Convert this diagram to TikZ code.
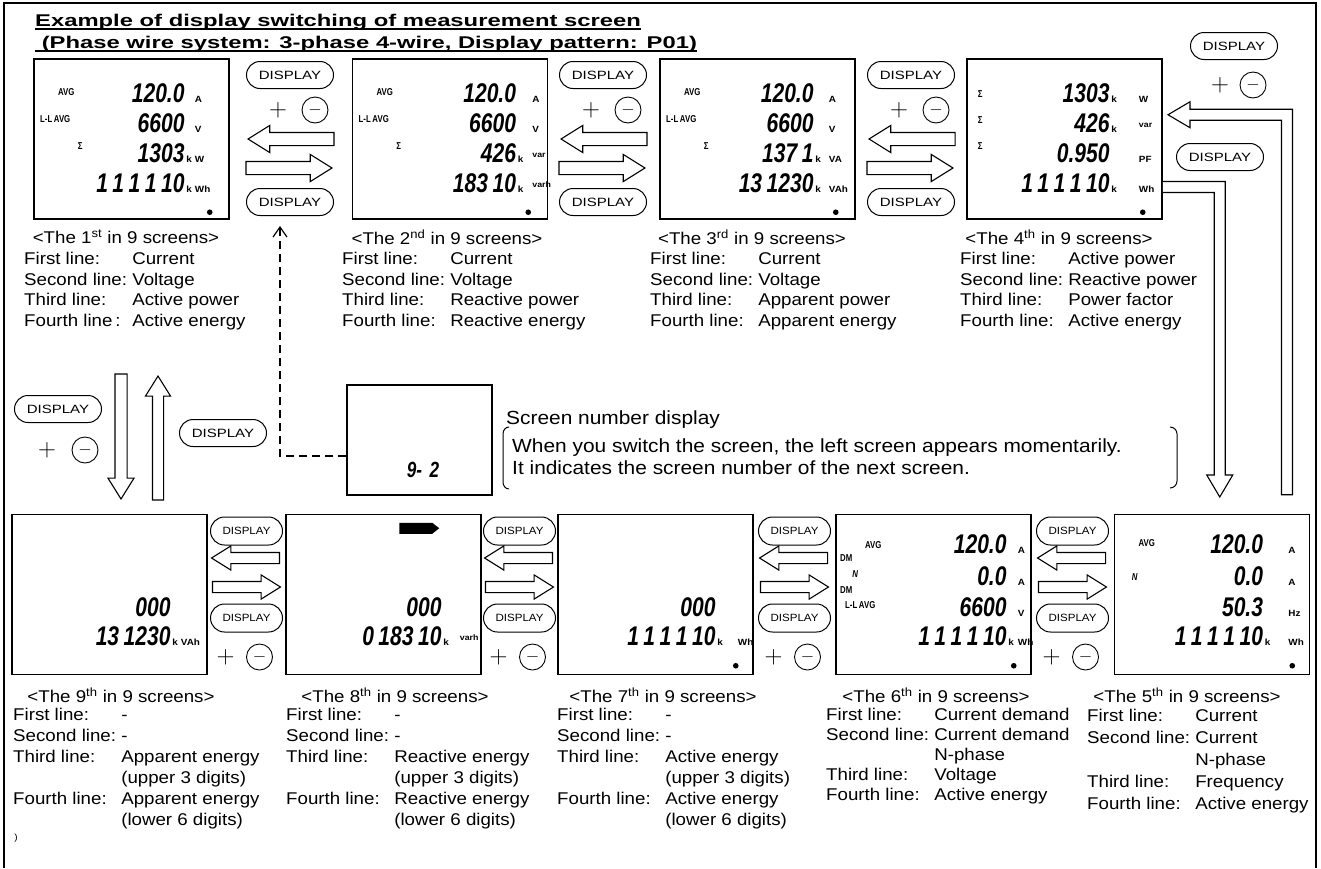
\documentclass[tikz,border=0pt]{standalone}
\usepackage{fontspec}
\setmainfont[FakeStretch=1.1]{Liberation Sans}
\newfontfamily\titlef[FakeStretch=1.4]{Liberation Sans}
\newfontfamily\btnf[FakeStretch=1.25]{Liberation Sans}
\newfontfamily\lcdf[FakeStretch=0.78]{Liberation Sans}
\usetikzlibrary{arrows.meta,calc,shapes.arrows,shapes.misc}

\newcommand{\upv}[1]{\raisebox{5pt}{\fontsize{8}{8}\selectfont #1}}
% digit rows of one screen: #2 inset of digits, #3 inset of units (from the right edge)
\newcommand{\lcdrows}[4]{%
  \foreach \rowy/\digs/\kay/\uu [count=\i] in {#4} {
    \node[dig] (#1d\i) at ($(#1.north east)+(-#2,\rowy)$) {\digs};
    \node[un] (#1k\i) at (#1d\i.base east) {\,\kay};
    \node[un] (#1u\i) at ($(#1.north east)+(-#3,\rowy)$) {\uu};
  }}
% small marks on the left of a screen
\newcommand{\lcdtags}[2]{%
  \foreach \tx/\ty/\tg [count=\j] in {#2}
    \node[tag] (#1t\j) at ($(#1.north west)+(\tx,\ty)$) {\tg};}

\begin{document}
\begin{tikzpicture}[x=1pt,y=-1pt,
  font=\fontsize{17}{20.5}\selectfont,
  scr/.style={draw,line width=1.5pt,minimum width=195pt,minimum height=160pt,inner sep=0pt},
  dig/.style={font=\lcdf\bfseries\itshape\fontsize{27}{27}\selectfont,inner sep=0pt,anchor=base east},
  un/.style={font=\bfseries\fontsize{9}{9}\selectfont,inner sep=0pt,anchor=base west},
  tag/.style={font=\lcdf\bfseries\fontsize{10}{10}\selectfont,inner sep=0pt},
  btn/.style={rounded rectangle,draw,line width=1pt,minimum width=87pt,minimum height=27pt,
              inner sep=0pt,font=\btnf\fontsize{12}{12}\selectfont},
  btns/.style={btn,minimum width=72pt,minimum height=28pt,font=\fontsize{10.5}{10.5}\selectfont},
  pl/.style={inner sep=0pt,font=\fontsize{28}{28}\selectfont},
  mn/.style={circle,draw,line width=0.9pt,minimum size=26pt,inner sep=0pt,font=\fontsize{16}{16}\selectfont},
  harr/.style={single arrow,draw,line width=1.1pt,fill=white,inner xsep=0pt,inner ysep=6pt,
               single arrow head extend=7pt,single arrow tip angle=64,minimum height=86pt,anchor=tip},
  harrs/.style={harr,inner ysep=5pt,single arrow head extend=6.5pt,minimum height=68pt},
  hol/.style={draw,line width=1.1pt,fill=white},
  dsh/.style={line width=1.2pt,dash pattern=on 8pt off 5pt,-{Straight Barb[length=10pt,width=14pt]}},
  hdr/.style={inner sep=0pt},
  desc/.style={inner sep=0pt,anchor=north west,align=left}]

\useasboundingbox (0,0) rectangle (1321,868);
\draw[line width=1.2pt] (4,868) -- (4,3) -- (1316,3) -- (1316,868);

% title
\node[anchor=base west,inner sep=0pt,font=\titlef\bfseries\fontsize{17}{17}\selectfont] (ttl) at (35,26)
  {Example of display switching of measurement screen};
\node[anchor=base west,inner sep=0pt,font=\titlef\bfseries\fontsize{17}{17}\selectfont] (sub) at (35,48)
  {\ (Phase wire system: 3-phase 4-wire, Display pattern: P01)};
\draw[line width=1.4pt] ([yshift=-3pt]ttl.base west) -- ([yshift=-3pt]ttl.base east);
\draw[line width=1.4pt] ([yshift=-3pt]sub.base west) -- ([yshift=-3pt]sub.base east);

% top row of screens
\node[scr] (s1) at (131.5,139) {};
\node[scr] (s2) at (450,139) {};
\node[scr] (s3) at (757.5,139) {};
\node[scr] (s4) at (1064.5,139) {};
\lcdrows{s1}{45}{35}{44/120.0//A, 74/6600//V, 104/1303/k/W, 134/{1\,1\,1\,1\,10}/k/Wh}
\lcdrows{s2}{32}{16}{44/120.0//A, 74/6600//V, 104/426/k/\upv{var}, 134/{183\,10}/k/\upv{varh}}
\lcdrows{s3}{42}{27}{44/120.0//A, 74/6600//V, 104/{137\,1}/k/VA, 134/{13\,1230}/k/VAh}
\lcdrows{s4}{53}{24}{44/1303/k/W, 74/426/k/\upv{var}, 104/0.950//PF, 134/{1\,1\,1\,1\,10}/k/Wh}
\lcdtags{s1}{33/34/AVG, 22/61/L-L\,AVG, 47/88/Σ}
\lcdtags{s2}{33/34/AVG, 22/61/L-L\,AVG, 47/88/Σ}
\lcdtags{s3}{33/34/AVG, 22/61/L-L\,AVG, 47/88/Σ}
\lcdtags{s4}{14/36/Σ, 14/62/Σ, 14/88/Σ}
\foreach \s in {s1,s2,s3,s4}
  \fill ($(\s.north east)+(-20,154)$) circle (2.8pt);

% bottom row of screens
\node[scr] (s9) at (109.5,594.5) {};
\node[scr] (s8) at (383.5,594.5) {};
\node[scr] (s7) at (655.5,594.5) {};
\node[scr] (s6) at (933.5,594.5) {};
\node[scr] (s5) at (1212,594.5) {};
\lcdrows{s9}{37}{27}{103/000//, 132/{13\,1230}/k/VAh}
\lcdrows{s8}{40}{22}{103/000//, 132/{0\,183\,10}/k/\upv{varh}}
\lcdrows{s7}{38}{16}{103/000//, 132/{1\,1\,1\,1\,10}/k/Wh}
\lcdrows{s6}{25}{14}{40/120.0//A, 72/0.0//A, 103/6600//V, 132/{1\,1\,1\,1\,10}/k/Wh}
\lcdrows{s5}{47}{22}{40/120.0//A, 72/0.0//A, 103/50.3//Hz, 132/{1\,1\,1\,1\,10}/k/Wh}
\lcdtags{s6}{38/31/AVG, 11/44/DM, 20/60/\itshape N, 11/76/DM, 25/91/L-L\,AVG}
\lcdtags{s5}{33/29/AVG, 21/63/\itshape N}
\fill ($(s8.north west)+(114,9)$) -- ++(33,0) -- ++(7,5.5) -- ++(-7,5.5) -- ++(-33,0) -- cycle;
\foreach \s in {s7,s6,s5}
  \fill ($(\s.north east)+(-18,152)$) circle (2.8pt);

% buttons and arrows between the top screens
\foreach \cx [count=\n] in {290,603,911} {
  \node[btn] (dt\n) at (\cx,75) {DISPLAY};
  \node[pl] (pt\n) at (\cx-12,110) {$+$};
  \node[mn] (mt\n) at (\cx+25,110) {$-$};
  \node[harr,rotate=180] (al\n) at (\cx-43,139) {};
  \node[harr] (ar\n) at (\cx+43,168) {};
  \node[btn] (db\n) at (\cx,202) {DISPLAY};
}

% buttons and arrows between the bottom screens
\foreach \cx [count=\n] in {246.5,519.5,794.5,1072.5} {
  \node[btns] (et\n) at (\cx,531) {DISPLAY};
  \node[harrs,rotate=180] (bl\n) at (\cx-36,558) {};
  \node[harrs] (br\n) at (\cx+35,587) {};
  \node[btns] (eb\n) at (\cx,618) {DISPLAY};
  \node[pl] (pb\n) at (\cx-21,657) {$+$};
  \node[mn] (mb\n) at (\cx+13,657) {$-$};
}

% left side: 1st <-> 9th
\node[btn] (dl) at (58,409) {DISPLAY};
\node[pl] (plx) at (47,450) {$+$};
\node[mn] (mlx) at (85,450) {$-$};
\node[btn] (dr) at (223,433) {DISPLAY};
\node[harr,rotate=-90,minimum height=125pt,inner ysep=5.5pt] (adn) at (121,500) {};
\node[harr,rotate=90,minimum height=124pt,inner ysep=5pt] (aup) at (158,375) {};

% right side: 4th <-> 5th
\node[btn] (dtr) at (1234,46) {DISPLAY};
\node[pl] (ptr) at (1220,85) {$+$};
\node[mn] (mtr) at (1253,85) {$-$};
\node[btn] (dmr) at (1220,157) {DISPLAY};
\draw[hol] ([yshift=-42.5pt]s4.east) -- ++(62.5,0) -- ++(0,293.5) -- ++(7.5,0) -- ++(-13,22)
  -- ++(-13,-22) -- ++(7.5,0) -- ++(0,-282.5) -- ++(-51.5,0);
\draw[hol] ([shift={(69.5,-19)}]s5.north) -- ++(0,-374.5) -- ++(-91.5,0) -- ++(0,7.5) -- ++(-22,-13)
  -- ++(22,-13) -- ++(0,7.5) -- ++(102.5,0) -- ++(0,385.5) -- cycle;

% screen number display
\node[scr,minimum width=145pt,minimum height=110pt] (sn) at (419.5,440) {};
\node[inner sep=0pt,font=\lcdf\bfseries\itshape\fontsize{22}{22}\selectfont] (snn) at (423,470) {9-\,\,2};
\coordinate (dtip) at (280,226);
\draw[dsh] ([yshift=-16pt]sn.west) -| (dtip);
\node[anchor=west,inner sep=0pt,font=\fontsize{19}{22}\selectfont] (snt) at (506,420) {Screen number display};
\node[anchor=west,align=left,inner sep=0pt,font=\fontsize{19}{22}\selectfont] (snd) at (512,457)
  {When you switch the screen, the left screen appears momentarily.\\
   It indicates the screen number of the next screen.};
\draw[line width=1pt] (509,427) to[out=180,in=90] (503,434) -- (503,482) to[out=-90,in=180] (509,489);
\draw[line width=1pt] (1170,427) to[out=0,in=90] (1177,434) -- (1177,481) to[out=-90,in=0] (1170,488);

% texts under the top screens
\node[hdr] (h1) at (126,237) {<The 1\textsuperscript{st} in 9 screens>};
\node[hdr] (h2) at (447,237) {<The 2\textsuperscript{nd} in 9 screens>};
\node[hdr] (h3) at (752,237) {<The 3\textsuperscript{rd} in 9 screens>};
\node[hdr] (h4) at (1059,237) {<The 4\textsuperscript{th} in 9 screens>};
\node[desc] (d1) at (24,250) {\begin{tabular}{@{}l@{\ }l@{}}
  First line: & Current\\ Second line: & Voltage\\ Third line: & Active power\\
  Fourth line\,: & Active energy\end{tabular}};
\node[desc] (d2) at (342,250) {\begin{tabular}{@{}l@{\ }l@{}}
  First line: & Current\\ Second line: & Voltage\\ Third line: & Reactive power\\
  Fourth line: & Reactive energy\end{tabular}};
\node[desc] (d3) at (650,250) {\begin{tabular}{@{}l@{\ }l@{}}
  First line: & Current\\ Second line: & Voltage\\ Third line: & Apparent power\\
  Fourth line: & Apparent energy\end{tabular}};
\node[desc] (d4) at (960,250) {\begin{tabular}{@{}l@{\ }l@{}}
  First line: & Active power\\ Second line: & Reactive power\\ Third line: & Power factor\\
  Fourth line: & Active energy\end{tabular}};

% texts under the bottom screens
\node[hdr] (h9) at (121,695) {<The 9\textsuperscript{th} in 9 screens>};
\node[hdr] (h8) at (395,695) {<The 8\textsuperscript{th} in 9 screens>};
\node[hdr] (h7) at (663,695) {<The 7\textsuperscript{th} in 9 screens>};
\node[hdr] (h6) at (936,695) {<The 6\textsuperscript{th} in 9 screens>};
\node[hdr] (h5) at (1187,695) {<The 5\textsuperscript{th} in 9 screens>};
\node[desc,font=\fontsize{17}{21}\selectfont] (d9) at (13,706) {\begin{tabular}{@{}l@{\ }l@{}}
  First line: & -\\ Second line: & -\\ Third line: & Apparent energy\\ & (upper 3 digits)\\
  Fourth line: & Apparent energy\\ & (lower 6 digits)\end{tabular}};
\node[desc,font=\fontsize{17}{21}\selectfont] (d8) at (286,706) {\begin{tabular}{@{}l@{\ }l@{}}
  First line: & -\\ Second line: & -\\ Third line: & Reactive energy\\ & (upper 3 digits)\\
  Fourth line: & Reactive energy\\ & (lower 6 digits)\end{tabular}};
\node[desc,font=\fontsize{17}{21}\selectfont] (d7) at (557,706) {\begin{tabular}{@{}l@{\ }l@{}}
  First line: & -\\ Second line: & -\\ Third line: & Active energy\\ & (upper 3 digits)\\
  Fourth line: & Active energy\\ & (lower 6 digits)\end{tabular}};
\node[desc,font=\fontsize{17}{20}\selectfont] (d6) at (826,706) {\begin{tabular}{@{}l@{\ }l@{}}
  First line: & Current demand\\ Second line: & Current demand\\ & N-phase\\
  Third line: & Voltage\\ Fourth line: & Active energy\end{tabular}};
\node[desc,font=\fontsize{17}{22}\selectfont] (d5) at (1087,706) {\begin{tabular}{@{}l@{\ }l@{}}
  First line: & Current\\ Second line: & Current\\ & N-phase\\
  Third line: & Frequency\\ Fourth line: & Active energy\end{tabular}};
\node[inner sep=0pt,font=\fontsize{9}{9}\selectfont] (stray) at (16,838) {)};
\end{tikzpicture}
\end{document}
